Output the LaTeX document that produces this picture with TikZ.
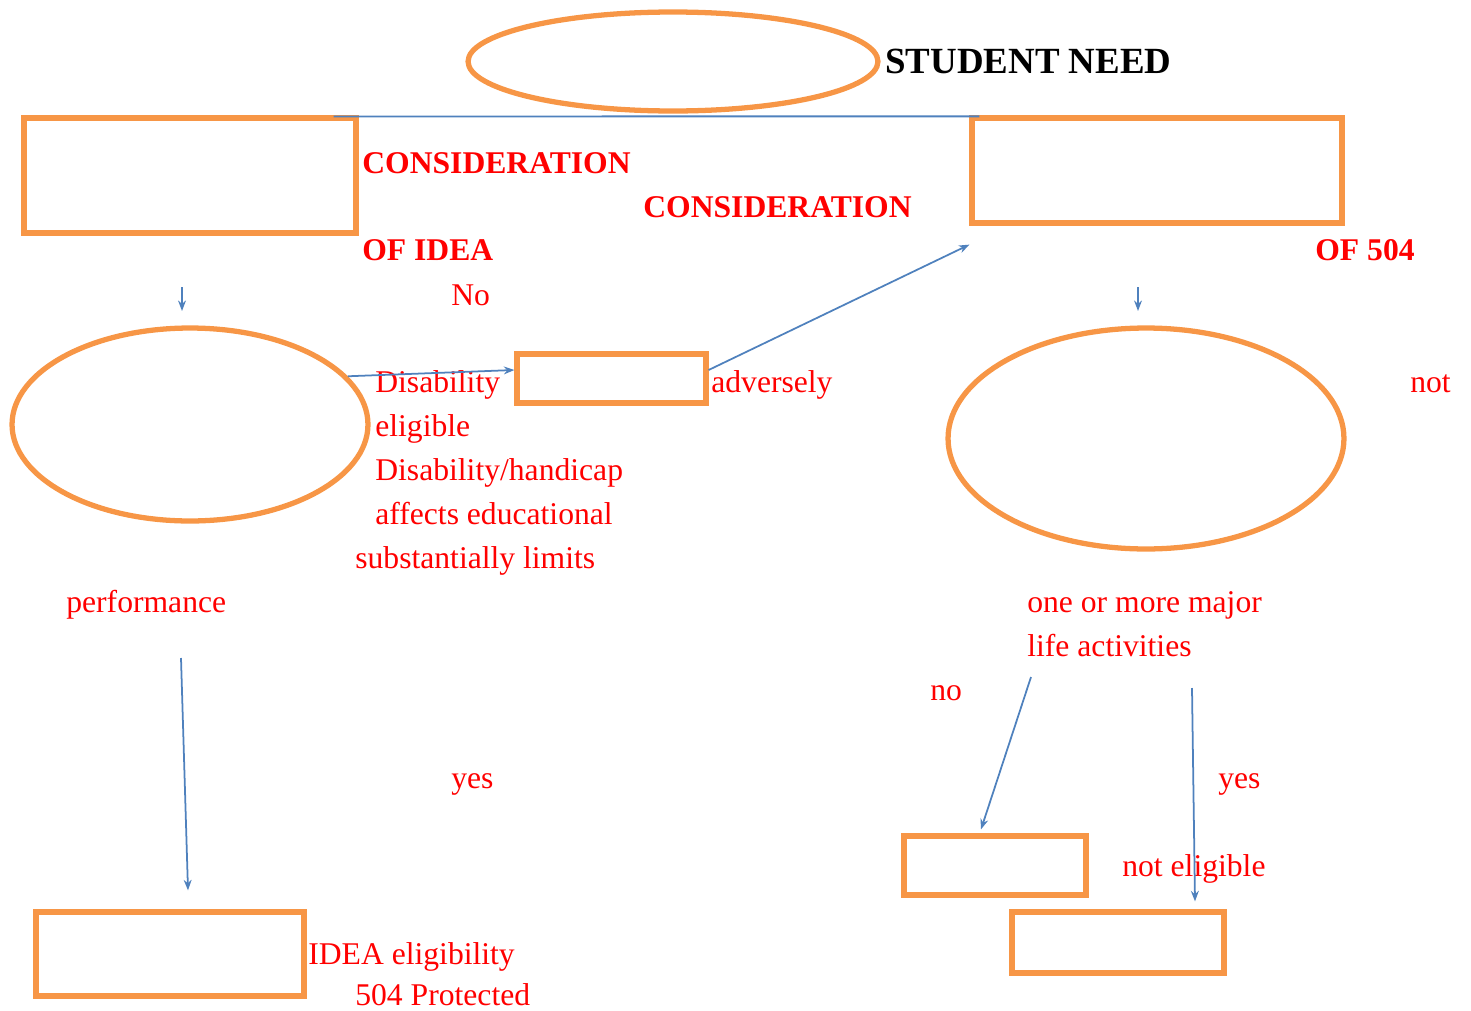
\documentclass[tikz,border=0pt]{standalone}
\usepackage{fontspec}
\setmainfont{Liberation Serif}
\usetikzlibrary{shapes.geometric,arrows.meta,calc}
\definecolor{boxorange}{HTML}{F79646}
\definecolor{arrowblue}{HTML}{4F81BD}
\definecolor{labelred}{HTML}{FF0000}
\begin{document}
\begin{tikzpicture}[x=0.02cm, y=-0.02cm,
    obox/.style={draw=boxorange, line width=3pt, rectangle, inner sep=0pt},
    oell/.style={draw=boxorange, line width=3pt, ellipse, inner sep=0pt},
    lbl/.style={anchor=base west, inner sep=0pt, text=labelred, font=\fontsize{18}{22}\selectfont},
    hd/.style={lbl, font=\fontsize{18}{22}\selectfont\bfseries},
    conn/.style={draw=arrowblue, line width=1pt, -{Stealth[length=6pt,width=4.5pt]}},
    plain/.style={draw=arrowblue, line width=1pt}]
                \useasboundingbox (0,0) rectangle (1471,1011);
                \node[oell, minimum width=8.2cm, minimum height=1.98cm] (need) at (673,61.5) {};
                \node[obox, minimum width=6.64cm, minimum height=2.30cm] (ideabox) at (190,175.5) {};
                \node[obox, minimum width=7.40cm, minimum height=2.10cm] (sbox) at (1157,170.5) {};
                \node[oell, minimum width=7.12cm, minimum height=3.86cm] (disab) at (190,424.5) {};
                \node[obox, minimum width=3.78cm, minimum height=0.98cm] (midbox) at (611.5,378.5) {};
                \node[oell, minimum width=7.92cm, minimum height=4.42cm] (limits) at (1146,438.5) {};
                \node[obox, minimum width=5.36cm, minimum height=1.68cm] (ideaelig) at (170,954) {};
                \node[obox, minimum width=3.64cm, minimum height=1.18cm] (notelig) at (995,865.5) {};
                \node[obox, minimum width=4.24cm, minimum height=1.22cm] (protected) at (1118,942.5) {};

                \node[hd, text=black, font=\fontsize{21}{25}\selectfont\bfseries] (needlbl) at (885,73) {STUDENT NEED};
                \node[hd] (consa) at (362,173) {CONSIDERATION};
                \node[hd] (consb) at (643,217) {CONSIDERATION};
                \node[hd] (ofidea) at (362,260) {OF IDEA};
                \node[hd] (ofsec) at (1315,260) {OF 504};
                \node[lbl] (nolbl) at (451,305) {No};
                \node[lbl] (disa) at (375,392) {Disability};
                \node[lbl] (adv) at (711,392) {adversely};
                \node[lbl] (notlbl) at (1410,392) {not};
                \node[lbl] (eligl) at (375,436) {eligible};
                \node[lbl] (handi) at (375,480) {Disability/handicap};
                \node[lbl] (affects) at (375,524) {affects educational};
                \node[lbl] (subst) at (355,568) {substantially limits};
                \node[lbl] (perf) at (66,612) {performance};
                \node[lbl] (major) at (1027,612) {one or more major};
                \node[lbl] (life) at (1027,656) {life activities};
                \node[lbl] (nob) at (930,700) {no};
                \node[lbl] (yesa) at (451,788) {yes};
                \node[lbl] (yesb) at (1218,788) {yes};
                \node[lbl] (notel) at (1122,876) {not eligible};
                \node[lbl] (ideael) at (308,964) {IDEA eligibility};
                \node[lbl] (prot) at (355,1005) {504 Protected};

                \coordinate (ideatop) at (182,287);
                \coordinate (ideabot) at (182,311);
                \coordinate (sectop) at (1138,287);
                \coordinate (secbot) at (1138,311);
                \coordinate (perfend) at (181,658);
                \coordinate (lifeno) at (1031,677);
                \coordinate (lifeyes) at (1192,688);

                \draw[plain] ($(ideabox.north east)+(-25,1)$) -- ($(sbox.north west)+(10,1)$);
                \draw[conn] (ideatop) -- (ideabot);
                \draw[conn] (sectop) -- (secbot);
                \draw[conn] (disab.17) -- (midbox.175);
                \draw[conn] (midbox.5) -- ($(sbox.south west)+(0,19)$);
                \draw[conn] (perfend) -- ($(ideaelig.north)+(18,-19)$);
                \draw[conn] (lifeno) -- ($(notelig.north)+(-14,-4)$);
                \draw[conn] (lifeyes) -- ($(protected.north)+(77,-8)$);

            \end{tikzpicture}
\end{document}
